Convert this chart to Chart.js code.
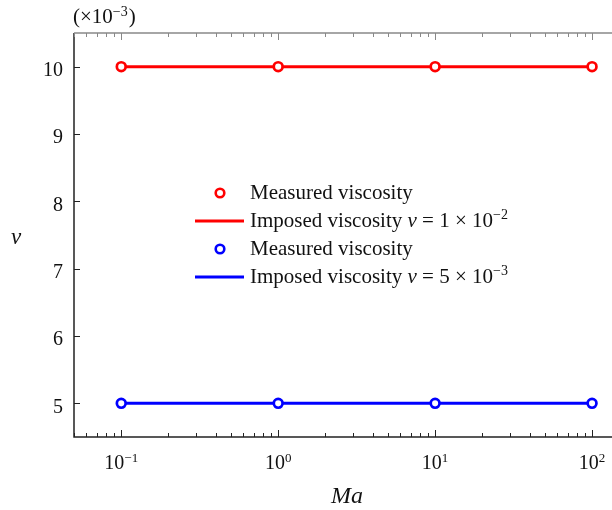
<!DOCTYPE html>
<html>
<head>
<meta charset="utf-8">
<script src="https://cdn.jsdelivr.net/npm/chart.js@4/dist/chart.umd.min.js"></script>
<style>
html,body{margin:0;padding:0;background:#fff;overflow:hidden;}
#wrap{width:612px;height:510px;position:relative;}
</style>
</head>
<body>
<div id="wrap"><canvas id="c" width="612" height="510"></canvas></div>
<script>
// Data
const maValues = [0.1, 1, 10, 100];
const measuredHigh = [10, 10, 10, 10];
const imposedHigh = [10, 10, 10, 10];
const measuredLow = [5, 5, 5, 5];
const imposedLow = [5, 5, 5, 5];
const yTickValues = [5, 6, 7, 8, 9, 10];
const xTickValues = [0.1, 1, 10, 100];
const xTickExponents = ['\u22121', '0', '1', '2'];
const legendLabels = [
  {text: 'Measured viscosity'},
  {text: 'Imposed viscosity ', coef: '1', exp: '\u22122'},
  {text: 'Measured viscosity'},
  {text: 'Imposed viscosity ', coef: '5', exp: '\u22123'}
];

const RED = '#ff0000', BLUE = '#0000ff';
const SERIF = '"Liberation Serif", "Times New Roman", serif';

function pts(ys){ return maValues.map((x,i)=>({x:x, y:ys[i]})); }

const decor = {
  id: 'decor',
  afterDraw(chart){
    const ctx = chart.ctx, a = chart.chartArea;
    const xs = chart.scales.x, ys = chart.scales.y;
    ctx.save();
    // spines
    ctx.lineWidth = 1.5;
    ctx.strokeStyle = '#888';
    ctx.beginPath(); ctx.moveTo(a.left, a.top); ctx.lineTo(a.right, a.top); ctx.stroke();
    ctx.strokeStyle = '#222';
    ctx.beginPath(); ctx.moveTo(a.left, a.top); ctx.lineTo(a.left, a.bottom); ctx.lineTo(a.right, a.bottom); ctx.stroke();
    // x ticks (major + minor)
    ctx.lineWidth = 1;
    for (let e = -2; e <= 2; e++) {
      for (let k = 1; k <= 9; k++) {
        const v = k * Math.pow(10, e);
        if (v < xs.min || v > xs.max) continue;
        const px = Math.round(xs.getPixelForValue(v)) + 0.5;
        const len = (k === 1) ? 7 : 4;
        ctx.strokeStyle = '#222';
        ctx.beginPath(); ctx.moveTo(px, a.bottom); ctx.lineTo(px, a.bottom - len); ctx.stroke();
        ctx.strokeStyle = '#888';
        ctx.beginPath(); ctx.moveTo(px, a.top); ctx.lineTo(px, a.top + len); ctx.stroke();
      }
    }
    // y ticks
    ctx.strokeStyle = '#222';
    yTickValues.forEach(v => {
      const py = Math.round(ys.getPixelForValue(v)) + 0.5;
      ctx.beginPath(); ctx.moveTo(a.left, py); ctx.lineTo(a.left + 6, py); ctx.stroke();
    });
    // x tick labels with superscripts
    ctx.fillStyle = '#111';
    ctx.textBaseline = 'alphabetic';
    ctx.textAlign = 'left';
    xTickValues.forEach((v, i) => {
      const px = xs.getPixelForValue(v);
      ctx.font = '20px ' + SERIF;
      const w1 = ctx.measureText('10').width;
      ctx.font = '13px ' + SERIF;
      const w2 = ctx.measureText(xTickExponents[i]).width;
      const x0 = px - (w1 + w2) / 2;
      ctx.font = '20px ' + SERIF;
      ctx.fillText('10', x0, 469);
      ctx.font = '13px ' + SERIF;
      ctx.fillText(xTickExponents[i], x0 + w1, 462);
    });
    // axis multiplier
    ctx.font = '21px ' + SERIF;
    let x = 73;
    ctx.fillText('(\u00d710', x, 23); x += ctx.measureText('(\u00d710').width;
    ctx.font = '14px ' + SERIF;
    ctx.fillText('\u22123', x, 16); x += ctx.measureText('\u22123').width + 1;
    ctx.font = '21px ' + SERIF;
    ctx.fillText(')', x, 23);
    // axis titles
    ctx.font = 'italic 24px ' + SERIF;
    ctx.textAlign = 'center';
    ctx.fillText('Ma', 347, 503);
    ctx.font = 'italic 23px ' + SERIF;
    ctx.fillText('\u03bd', 16, 244);
    // legend
    const rows = [193, 221, 249, 277];
    const colors = [RED, RED, BLUE, BLUE];
    ctx.textAlign = 'left';
    legendLabels.forEach((lab, i) => {
      const y = rows[i];
      if (i % 2 === 0) {
        ctx.beginPath(); ctx.arc(220, y, 4.3, 0, Math.PI * 2);
        ctx.fillStyle = '#fff'; ctx.fill();
        ctx.lineWidth = 2.6; ctx.strokeStyle = colors[i]; ctx.stroke();
      } else {
        ctx.lineWidth = 3; ctx.strokeStyle = colors[i];
        ctx.beginPath(); ctx.moveTo(195, y); ctx.lineTo(244, y); ctx.stroke();
      }
      ctx.fillStyle = '#111';
      const base = y + 6;
      let tx = 250;
      ctx.font = '21px ' + SERIF;
      ctx.fillText(lab.text, tx, base); tx += ctx.measureText(lab.text).width;
      if (lab.coef) {
        ctx.font = 'italic 21px ' + SERIF;
        ctx.fillText('\u03bd', tx, base); tx += ctx.measureText('\u03bd').width;
        ctx.font = '21px ' + SERIF;
        const s = ' = ' + lab.coef + ' \u00d7 10';
        ctx.fillText(s, tx, base); tx += ctx.measureText(s).width;
        ctx.font = '14px ' + SERIF;
        ctx.fillText(lab.exp, tx, base - 8);
      }
    });
    ctx.restore();
  }
};

new Chart(document.getElementById('c'), {
  type: 'line',
  data: {
    datasets: [
      {label: 'Imposed high', data: pts(imposedHigh), borderColor: RED, borderWidth: 3, pointRadius: 0, fill: false, order: 4},
      {label: 'Imposed low', data: pts(imposedLow), borderColor: BLUE, borderWidth: 3, pointRadius: 0, fill: false, order: 3},
      {label: 'Measured high', data: pts(measuredHigh), showLine: false, borderColor: RED, pointBorderColor: RED, pointBackgroundColor: '#fff', pointRadius: 4.4, pointBorderWidth: 2.7, order: 2},
      {label: 'Measured low', data: pts(measuredLow), showLine: false, borderColor: BLUE, pointBorderColor: BLUE, pointBackgroundColor: '#fff', pointRadius: 4.4, pointBorderWidth: 2.7, order: 1}
    ]
  },
  options: {
    responsive: false,
    animation: false,
    events: [],
    clip: false,
    layout: {autoPadding: false, padding: {top: 33, right: 0, left: 0, bottom: 0}},
    plugins: {legend: {display: false}, tooltip: {enabled: false}},
    scales: {
      x: {
        type: 'logarithmic', min: 0.05, max: 134,
        grid: {display: false}, border: {display: false},
        ticks: {display: false},
        afterFit(s){ s.height = 73; }
      },
      y: {
        type: 'linear', min: 4.5, max: 10.5,
        grid: {display: false, drawTicks: false}, border: {display: false},
        afterBuildTicks(s){ s.ticks = yTickValues.map(v => ({value: v})); },
        ticks: {font: {family: SERIF, size: 20}, color: '#111', padding: 11, labelOffset: 4},
        afterFit(s){ s.width = 74; }
      }
    }
  },
  plugins: [decor]
});
</script>
</body>
</html>
